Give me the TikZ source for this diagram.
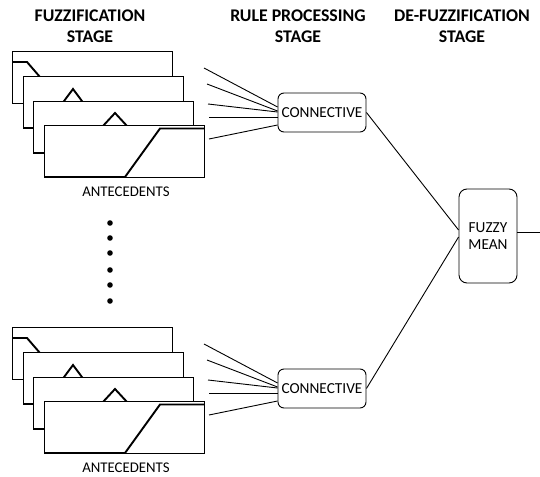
\documentclass[tikz,border=0pt]{standalone}
\usepackage{fontspec}
\setmainfont{Carlito}
\begin{document}
\begin{tikzpicture}[x=1pt,y=-1pt,
 card/.style={draw, line width=1.2pt, fill=white, minimum width=160pt, minimum height=52pt, anchor=north west, inner sep=0pt},
 mf/.style={line width=1.9pt, line join=miter},
 fan/.style={line width=0.9pt},
 box/.style={draw, rounded corners=6pt, line width=0.9pt, fill=white, inner sep=0pt, font=\fontsize{15.3}{17.5}\selectfont, align=center},
 title/.style={font=\fontsize{17.8}{21.5}\selectfont\bfseries, align=center},
 lbl/.style={font=\fontsize{14.8}{17}\selectfont},
 dotn/.style={circle, fill=black, draw=none, inner sep=0pt, minimum size=5.6pt}]
\fill[white] (0,0) rectangle (540,476);
\useasboundingbox (0,0) rectangle (540,476);
% titles
\node[title] (t1) at (90,26) {FUZZIFICATION\\STAGE};
\node[title] (t2) at (298,26) {RULE PROCESSING\\STAGE};
\node[title] (t3) at (462,26) {DE-FUZZIFICATION\\STAGE};
% groups
\foreach \g/\dy in {t/0, b/276}{
  \node[card] (c\g1) at (12,51+\dy) {};
  \draw[mf] (12,62+\dy) -- (27,62+\dy) -- (62.5,103+\dy) -- (172,103+\dy);
  \node[card] (c\g2) at (23,76+\dy) {};
  \draw[mf] (23,128+\dy) -- (44,128+\dy) -- (73,89+\dy) -- (102,128+\dy) -- (183,128+\dy);
  \node[card] (c\g3) at (33,101+\dy) {};
  \draw[mf] (33,153+\dy) -- (78,153+\dy) -- (115,113+\dy) -- (152,153+\dy) -- (193,153+\dy);
  \node[card] (c\g4) at (44,125+\dy) {};
  \draw[mf] (44,177+\dy) -- (125,177+\dy) -- (160,128.5+\dy) -- (204,128.5+\dy);
  \node[lbl] (a\g) at (126,192+\dy) {ANTECEDENTS};
  \node[box, minimum width=88pt, minimum height=39pt] (con\g) at (322,112.5+\dy) {CONNECTIVE};
  \coordinate (f\g1) at (204,68+\dy);
  \coordinate (f\g2) at (207,84+\dy);
  \coordinate (f\g3) at (208,104+\dy);
  \coordinate (f\g4) at (209,117+\dy);
  \coordinate (f\g5) at (209,139+\dy);
  \draw[fan] (f\g1) -- ([yshift=5.5pt]con\g.west);
  \draw[fan] (f\g2) -- ([yshift=1.5pt]con\g.west);
  \draw[fan] (f\g3) -- ([yshift=0.5pt]con\g.west);
  \draw[fan] (f\g4) -- ([yshift=-4.5pt]con\g.west);
  \draw[fan] (f\g5) -- ([yshift=-12.5pt]con\g.west);
}
% dots
\foreach \i/\y in {1/223,2/238,3/253,4/270,5/285,6/301}{
  \node[dotn] (d\i) at (110,\y) {};
}
% fuzzy mean
\node[box, rounded corners=8pt, minimum width=58pt, minimum height=94pt] (fz) at (488,236) {FUZZY\\MEAN};
\draw[fan] (cont.east) -- ([yshift=6pt]fz.west);
\draw[fan] (conb.east) -- ([yshift=-1pt]fz.west);
\coordinate (out) at (540,232);
\draw[fan] ([yshift=4pt]fz.east) -- (out);
\end{tikzpicture}
\end{document}
